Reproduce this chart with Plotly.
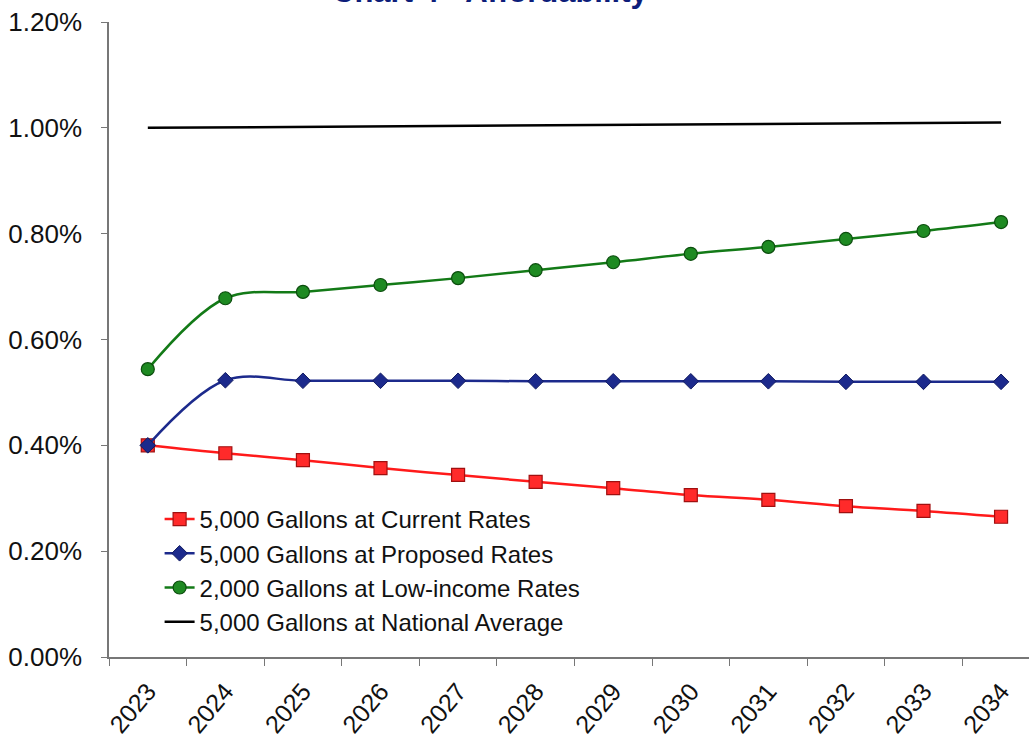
import plotly.graph_objects as go

years = ["2023", "2024", "2025", "2026", "2027", "2028", "2029", "2030", "2031", "2032", "2033", "2034"]
current = [0.400, 0.385, 0.372, 0.357, 0.344, 0.331, 0.319, 0.306, 0.297, 0.285, 0.276, 0.265]
proposed = [0.400, 0.523, 0.522, 0.522, 0.522, 0.521, 0.521, 0.521, 0.521, 0.520, 0.520, 0.520]
lowincome = [0.544, 0.678, 0.690, 0.703, 0.716, 0.731, 0.746, 0.762, 0.775, 0.790, 0.805, 0.822]
national = [1.000, 1.001, 1.002, 1.003, 1.004, 1.005, 1.006, 1.007, 1.008, 1.008, 1.009, 1.010]

names = ["5,000 Gallons at Current Rates", "5,000 Gallons at Proposed Rates",
         "2,000 Gallons at Low-income Rates", "5,000 Gallons at National Average"]

FONT = "Liberation Sans, Arial, sans-serif"

fig = go.Figure()
fig.add_trace(go.Scatter(
    x=years, y=current, name=names[0], mode="lines+markers", legendgroup="a",
    line=dict(color="#ff1a1a", width=2.5, shape="spline"),
    marker=dict(symbol="square", size=13, color="#ff2a2a", line=dict(color="#a01010", width=1.2))))
fig.add_trace(go.Scatter(
    x=years, y=proposed, name=names[1], mode="lines+markers", legendgroup="b",
    line=dict(color="#1c2a8c", width=2.5, shape="spline"),
    marker=dict(symbol="diamond", size=12, color="#1c2a8c", line=dict(color="#101a60", width=1))))
fig.add_trace(go.Scatter(
    x=years, y=lowincome, name=names[2], mode="lines+markers", legendgroup="c",
    line=dict(color="#137a17", width=2.5, shape="spline"),
    marker=dict(symbol="circle", size=13, color="#1e8a22", line=dict(color="#0b4d0d", width=1.2))))
fig.add_trace(go.Scatter(
    x=years, y=national, name=names[3], mode="lines", legendgroup="d",
    line=dict(color="#000000", width=2.5)))

fig.update_layout(
    width=1029, height=738,
    margin=dict(l=109, r=0, t=22, b=81),
    paper_bgcolor="white", plot_bgcolor="white",
    font=dict(family=FONT, color="#111111", size=24),
    showlegend=True,
    legend=dict(x=0.055, y=0.252, xanchor="left", yanchor="top",
                font=dict(size=24, family=FONT, color="#111111"),
                bgcolor="rgba(0,0,0,0)", tracegroupgap=2, itemwidth=30,
                traceorder="normal"),
    xaxis=dict(type="category", range=[-0.5, 11.36], tickson="boundaries",
               ticks="outside", ticklen=7, tickcolor="#777777",
               showline=True, linecolor="#777777", linewidth=1.5,
               showgrid=False, tickangle=-50, ticklabelstandoff=8,
               tickfont=dict(size=25, family=FONT, color="#111111")),
    yaxis=dict(range=[0, 1.2], tickvals=[0, 0.2, 0.4, 0.6, 0.8, 1.0, 1.2],
               ticktext=["0.00%", "0.20%", "0.40%", "0.60%", "0.80%", "1.00%", "1.20%"],
               ticks="outside", ticklen=6, tickcolor="#777777",
               showline=True, linecolor="#777777", linewidth=1.5,
               showgrid=False, zeroline=False, ticklabelstandoff=14,
               tickfont=dict(size=26, family=FONT, color="#111111")),
    annotations=[dict(text="<b>Chart 4 - Affordability</b>", xref="paper", yref="paper",
                      x=0.415, y=1.018, xanchor="center", yanchor="bottom", showarrow=False,
                      font=dict(size=31, family=FONT, color="#0d1d7a"))],
)

fig.write_html("out.html")
